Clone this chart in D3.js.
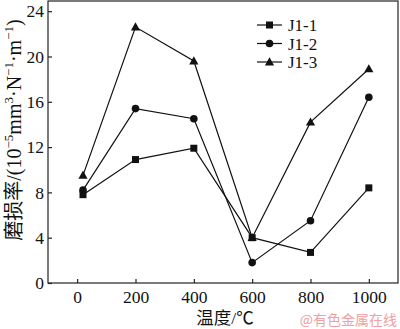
<!DOCTYPE html>
<html><head><meta charset="utf-8">
<script src="https://cdn.jsdelivr.net/npm/d3@7"></script>
<style>body{margin:0;background:#fff}svg{display:block}</style>
</head><body>
<script>
const temps = [20, 200, 400, 600, 800, 1000];
const seriesNames = ["J1-1", "J1-2", "J1-3"];
const j11 = [7.8, 10.9, 11.9, 4.0, 2.7, 8.4];
const j12 = [8.2, 15.4, 14.5, 1.8, 5.5, 16.4];
const j13 = [9.5, 22.6, 19.6, 4.0, 14.2, 18.9];
const xTicks = [0, 200, 400, 600, 800, 1000];
const yTicks = [0, 4, 8, 12, 16, 20, 24];
const markers = ["square", "circle", "triangle"];

const W = 400, H = 329;
const m = {l: 48, r: 2, t: 1, b: 46};
const svg = d3.select("body").append("svg").attr("width", W).attr("height", H);
const x = d3.scaleLinear().domain([-100, 1100]).range([m.l, W - m.r]);
const y = d3.scaleLinear().domain([0, 24.9]).range([H - m.b, m.t]);
const font = "'Liberation Serif','Times New Roman',serif";
const cjk = "'Liberation Serif','Noto Sans CJK SC',serif";

// frame
svg.append("rect").attr("x", m.l).attr("y", m.t).attr("width", W - m.r - m.l).attr("height", H - m.b - m.t)
  .attr("fill", "none").attr("stroke", "#222").attr("stroke-width", 1.2);

const xAxis = svg.append("g").attr("transform", `translate(0,${H - m.b})`)
  .call(d3.axisBottom(x).tickValues(xTicks).tickFormat(d3.format("d")).tickSizeInner(-4).tickSizeOuter(0).tickPadding(8));
const yAxis = svg.append("g").attr("transform", `translate(${m.l},0)`)
  .call(d3.axisLeft(y).tickValues(yTicks).tickFormat(d3.format("d")).tickSizeInner(-4).tickSizeOuter(0).tickPadding(4));
[xAxis, yAxis].forEach(g => {
  g.select(".domain").remove();
  g.selectAll("line").attr("stroke", "#222").attr("stroke-width", 1.2);
  g.selectAll("text").attr("font-family", font).attr("font-size", 17.5).attr("fill", "#111");
});

const data = [j11, j12, j13];
const line = d3.line().x((d, i) => x(temps[i])).y(d => y(d));

function drawMarker(g, type, cx, cy) {
  if (type === "square") g.append("rect").attr("x", cx - 3.5).attr("y", cy - 3.5).attr("width", 7).attr("height", 7).attr("fill", "#111");
  else if (type === "circle") g.append("circle").attr("cx", cx).attr("cy", cy).attr("r", 3.8).attr("fill", "#111");
  else g.append("path").attr("d", `M${cx},${cy - 4.8}L${cx + 4.6},${cy + 3.4}L${cx - 4.6},${cy + 3.4}Z`).attr("fill", "#111");
}

data.forEach((vals, si) => {
  const g = svg.append("g");
  g.append("path").attr("d", line(vals)).attr("fill", "none").attr("stroke", "#111").attr("stroke-width", 1.2);
  vals.forEach((v, i) => drawMarker(g, markers[si], x(temps[i]), y(v)));
});

// legend
const legY = [25, 43.5, 62];
seriesNames.forEach((n, i) => {
  const g = svg.append("g");
  g.append("line").attr("x1", 257).attr("x2", 282).attr("y1", legY[i]).attr("y2", legY[i]).attr("stroke", "#111").attr("stroke-width", 1.2);
  drawMarker(g, markers[i], 269.5, legY[i]);
  g.append("text").attr("x", 288).attr("y", legY[i] + 6).attr("font-family", font).attr("font-size", 17).attr("fill", "#111").text(n);
});

// x label
svg.append("text").attr("x", 225).attr("y", 324).attr("text-anchor", "middle").attr("font-family", cjk).attr("font-size", 17.5).attr("fill", "#111").text("温度/℃");

// y label
const yl = svg.append("text").attr("transform", "translate(21,130) rotate(-90)").attr("text-anchor", "middle")
  .attr("font-family", cjk).attr("font-size", 20).attr("fill", "#111");
yl.append("tspan").text("磨损率/(10");
yl.append("tspan").attr("font-size", 13).attr("dy", -8).text("−5");
yl.append("tspan").attr("dy", 8).text("mm");
yl.append("tspan").attr("font-size", 13).attr("dy", -8).text("3");
yl.append("tspan").attr("dy", 8).text("·N");
yl.append("tspan").attr("font-size", 13).attr("dy", -8).text("−1");
yl.append("tspan").attr("dy", 8).text("·m");
yl.append("tspan").attr("font-size", 13).attr("dy", -8).text("−1");
yl.append("tspan").attr("dy", 8).text(")");

// watermark
svg.append("text").attr("x", 397).attr("y", 325).attr("text-anchor", "end").attr("font-family", "'Noto Sans CJK SC',sans-serif").attr("font-size", 14).attr("fill", "#f0a0a0").text("@有色金属在线");
</script>
</body></html>
